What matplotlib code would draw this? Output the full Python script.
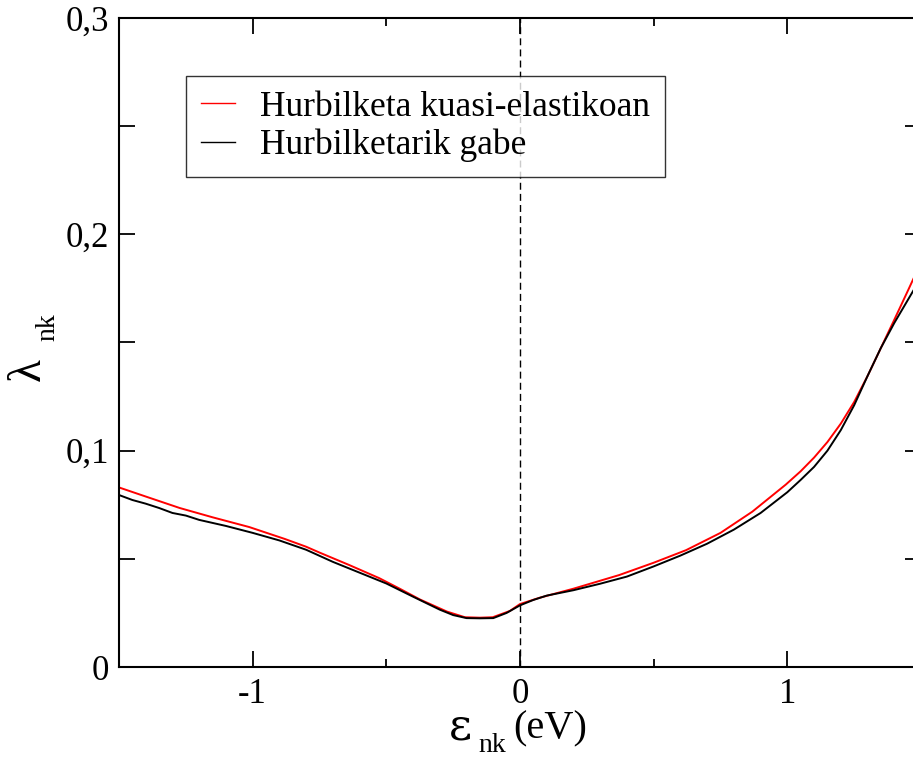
import numpy as np
import matplotlib
matplotlib.use('Agg')
import matplotlib.pyplot as plt
from matplotlib.ticker import MultipleLocator, FuncFormatter

plt.rcParams['font.family'] = ['Liberation Serif', 'DejaVu Serif']

# Quasi-elastic approximation (red)
x_kuasi = [-1.5, -1.4, -1.273, -1.15, -1.013, -0.88, -0.8, -0.75, -0.64, -0.527,
           -0.45, -0.374, -0.273, -0.206, -0.15, -0.102, -0.038, 0.0, 0.073, 0.2,
           0.371, 0.5, 0.621, 0.75, 0.869, 0.994, 1.05, 1.1, 1.15, 1.2,
           1.25, 1.3, 1.35, 1.4, 1.45, 1.5]
y_kuasi = [0.0830, 0.0788, 0.0735, 0.0692, 0.0647, 0.0592, 0.0556, 0.0529, 0.0472, 0.0411,
           0.0362, 0.0312, 0.0256, 0.0230, 0.0228, 0.0230, 0.0259, 0.0291, 0.0320, 0.0362,
           0.0425, 0.0482, 0.0540, 0.0620, 0.0718, 0.0843, 0.0905, 0.0968, 0.1040, 0.1125,
           0.1225, 0.1345, 0.1475, 0.1605, 0.1737, 0.1870]

# Without approximation (black)
x_gabe = [-1.5, -1.45, -1.4, -1.35, -1.3, -1.25, -1.2, -1.1, -1.0, -0.9,
          -0.8, -0.75, -0.7, -0.6, -0.5, -0.4, -0.3, -0.25, -0.2, -0.15,
          -0.1, -0.05, 0.0, 0.05, 0.1, 0.2, 0.3, 0.4, 0.5, 0.6,
          0.7, 0.8, 0.9, 1.0, 1.05, 1.1, 1.15, 1.2, 1.25, 1.3,
          1.35, 1.4, 1.45, 1.5]
y_gabe = [0.0795, 0.0772, 0.0755, 0.0735, 0.0712, 0.0700, 0.0680, 0.0652, 0.0620, 0.0585,
          0.0542, 0.0514, 0.0486, 0.0436, 0.0386, 0.0325, 0.0265, 0.0240, 0.0226, 0.0225,
          0.0226, 0.0250, 0.0285, 0.0310, 0.0330, 0.0355, 0.0385, 0.0418, 0.0465, 0.0515,
          0.0570, 0.0635, 0.0712, 0.0808, 0.0865, 0.0925, 0.1000, 0.1095, 0.1210, 0.1345,
          0.1475, 0.1590, 0.1695, 0.1800]

fig = plt.figure(figsize=(9.13, 7.6), dpi=100)
ax = fig.add_axes([119 / 913, 93 / 760, 802 / 913, 649 / 760])

ax.plot(x_kuasi, y_kuasi, color='red', lw=1.4, label='Hurbilketa kuasi-elastikoan')
ax.plot(x_gabe, y_gabe, color='black', lw=1.4, label='Hurbilketarik gabe')
ax.axvline(0, color='black', lw=1.0, ls=(0, (5, 3)))

ax.set_xlim(-1.5, 1.5)
ax.set_ylim(0, 0.3)
ax.xaxis.set_major_locator(MultipleLocator(1))
ax.xaxis.set_minor_locator(MultipleLocator(0.5))
ax.yaxis.set_major_locator(MultipleLocator(0.1))
ax.yaxis.set_minor_locator(MultipleLocator(0.05))

fmt = FuncFormatter(lambda v, p: ('%g' % round(v, 3)).replace('.', ','))
ax.xaxis.set_major_formatter(fmt)
ax.yaxis.set_major_formatter(fmt)

ax.tick_params(which='both', direction='in', top=True, right=True, width=1.3, labelsize=25)
ax.tick_params(axis='x', which='major', length=11.5, pad=8)
ax.tick_params(axis='x', which='minor', length=5.8)
ax.tick_params(axis='y', which='both', length=11.5, pad=7)
for s in ax.spines.values():
    s.set_linewidth(1.5)

# axis labels: big greek letter + small subscript, as in the original
H = 760.0
fig.text(449 / 913, 1 - 740 / H, 'ε', fontsize=32, family='DejaVu Serif',
         ha='left', va='baseline')
fig.text(478 / 913, 1 - 752 / H, 'nk', fontsize=20, ha='left', va='baseline')
fig.text(513 / 913, 1 - 738 / H, '(eV)', fontsize=29, ha='left', va='baseline')
fig.text(40 / 913, 1 - 381 / H, 'λ', fontsize=34, rotation=90, rotation_mode='anchor',
         ha='left', va='baseline')
fig.text(54 / 913, 1 - 341 / H, 'nk', fontsize=20, rotation=90, rotation_mode='anchor',
         ha='left', va='baseline')

leg = ax.legend(loc='upper left', bbox_to_anchor=(186 / 913, 1 - 76 / 760),
                bbox_transform=fig.transFigure, fontsize=25.5, frameon=True,
                fancybox=False, edgecolor='black', handlelength=0.96,
                handletextpad=0.7, borderaxespad=0, borderpad=0.42, labelspacing=0.14)
leg.get_frame().set_linewidth(1.0)
for line in leg.get_lines():
    line.set_linewidth(1.0)

fig.savefig('out.png', dpi=100)
